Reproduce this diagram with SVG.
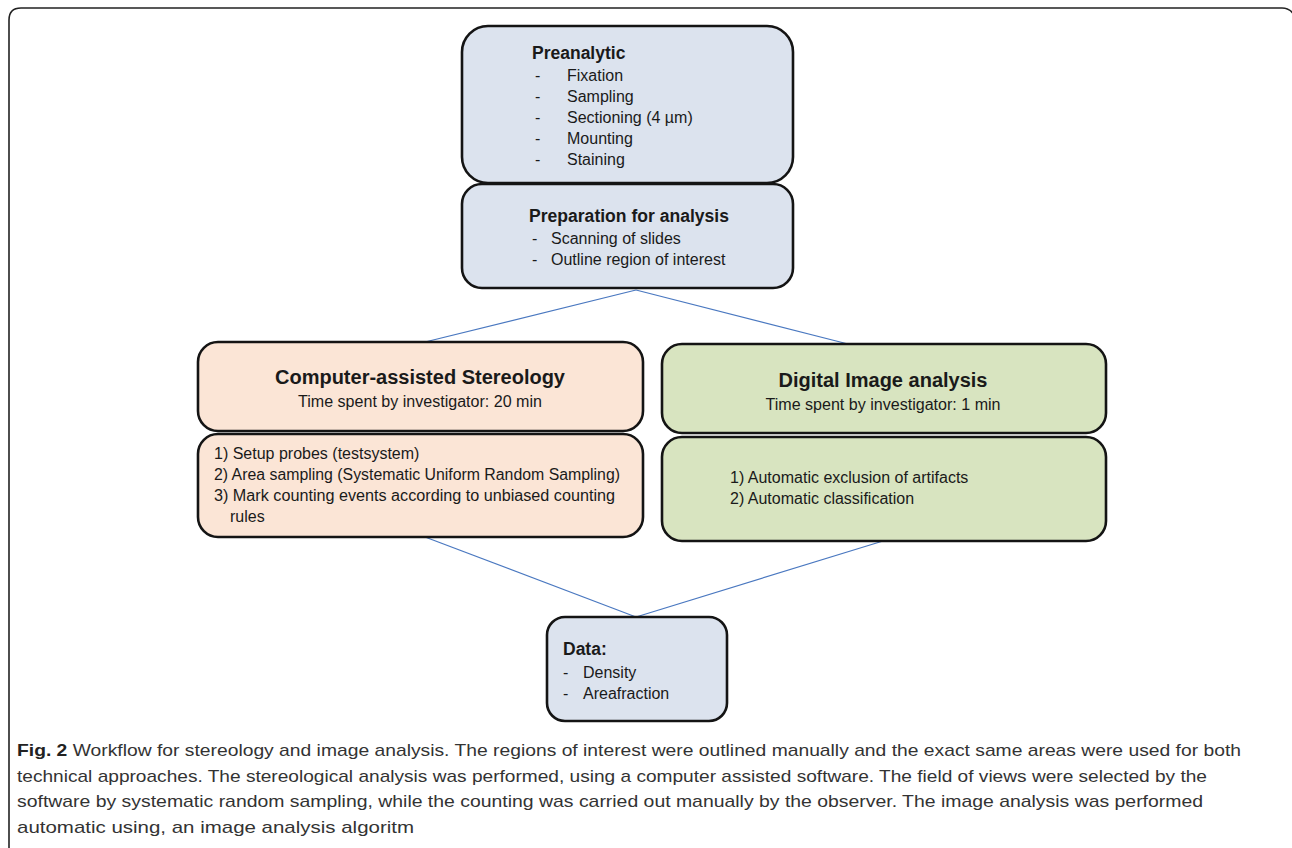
<svg xmlns="http://www.w3.org/2000/svg" width="1292" height="848" viewBox="0 0 1292 848">
<style>
.box{stroke:#141414;stroke-width:2.6}
.blue{fill:#DCE3EE}
.orange{fill:#FBE5D6}
.green{fill:#D8E4C0}
.t{font-family:"Liberation Sans",Arial,sans-serif;font-size:16px;fill:#1a1a1a}
.b{font-family:"Liberation Sans",Arial,sans-serif;font-weight:bold;font-size:17.5px;fill:#1a1a1a}
.h{font-family:"Liberation Sans",Arial,sans-serif;font-weight:bold;font-size:20px;fill:#1a1a1a}
.c{font-family:"Liberation Sans",Arial,sans-serif;font-size:17px;fill:#333}
.conn{stroke:#4A78C0;stroke-width:1.2;fill:none}
</style>
<rect width="1292" height="848" fill="#fff"/>
<path d="M 9 848 L 9 20 Q 9 8 21 8 L 1282 8 Q 1290 8 1294 15" fill="none" stroke="#222" stroke-width="1.6"/>

<g id="connectors">
<line class="conn" x1="636" y1="290" x2="425" y2="342"/>
<line class="conn" x1="636" y1="290" x2="848" y2="344"/>
<line class="conn" x1="425" y1="537" x2="636" y2="617"/>
<line class="conn" x1="883" y1="541" x2="636" y2="617"/>
</g>

<g id="preanalytic">
<rect class="box blue" x="462" y="26" width="331" height="157" rx="26"/>
<text class="b" x="532" y="59">Preanalytic</text>
<text class="t" x="535" y="81">-</text><text class="t" x="567" y="81">Fixation</text>
<text class="t" x="535" y="102">-</text><text class="t" x="567" y="102">Sampling</text>
<text class="t" x="535" y="123">-</text><text class="t" x="567" y="123">Sectioning (4 µm)</text>
<text class="t" x="535" y="144">-</text><text class="t" x="567" y="144">Mounting</text>
<text class="t" x="535" y="165">-</text><text class="t" x="567" y="165">Staining</text>
</g>

<g id="preparation">
<rect class="box blue" x="462" y="184" width="331" height="104" rx="20"/>
<text class="b" x="529" y="222" textLength="200" lengthAdjust="spacingAndGlyphs">Preparation for analysis</text>
<text class="t" x="532" y="244">-</text><text class="t" x="551" y="244">Scanning of slides</text>
<text class="t" x="532" y="265">-</text><text class="t" x="551" y="265">Outline region of interest</text>
</g>

<g id="stereology">
<rect class="box orange" x="198" y="342" width="445" height="89" rx="20"/>
<text class="h" x="420" y="384" text-anchor="middle" textLength="290" lengthAdjust="spacingAndGlyphs">Computer-assisted Stereology</text>
<text class="t" x="420" y="407" text-anchor="middle" textLength="244" lengthAdjust="spacingAndGlyphs">Time spent by investigator: 20 min</text>
</g>

<g id="stereology-steps">
<rect class="box orange" x="198" y="434" width="445" height="103" rx="20"/>
<text class="t" x="214" y="459">1) Setup probes (testsystem)</text>
<text class="t" x="214" y="480" textLength="406" lengthAdjust="spacingAndGlyphs">2) Area sampling (Systematic Uniform Random Sampling)</text>
<text class="t" x="214" y="501" textLength="401" lengthAdjust="spacingAndGlyphs">3) Mark counting events according to unbiased counting</text>
<text class="t" x="230" y="522">rules</text>
</g>

<g id="image-analysis">
<rect class="box green" x="662" y="344" width="444" height="89" rx="20"/>
<text class="h" x="883" y="387" text-anchor="middle" textLength="209" lengthAdjust="spacingAndGlyphs">Digital Image analysis</text>
<text class="t" x="883" y="410" text-anchor="middle" textLength="235" lengthAdjust="spacingAndGlyphs">Time spent by investigator: 1 min</text>
</g>

<g id="image-analysis-steps">
<rect class="box green" x="662" y="437" width="444" height="104" rx="20"/>
<text class="t" x="730" y="483">1) Automatic exclusion of artifacts</text>
<text class="t" x="730" y="504">2) Automatic classification</text>
</g>

<g id="data">
<rect class="box blue" x="547" y="617" width="180" height="104" rx="18"/>
<text class="b" x="563" y="655">Data:</text>
<text class="t" x="563" y="678">-</text><text class="t" x="583" y="678">Density</text>
<text class="t" x="563" y="699">-</text><text class="t" x="583" y="699">Areafraction</text>
</g>

<g id="caption">
<text class="c" x="17" y="756" textLength="1224" lengthAdjust="spacingAndGlyphs"><tspan font-weight="bold" fill="#222">Fig. 2</tspan> Workflow for stereology and image analysis. The regions of interest were outlined manually and the exact same areas were used for both</text>
<text class="c" x="17" y="782" textLength="1190" lengthAdjust="spacingAndGlyphs">technical approaches. The stereological analysis was performed, using a computer assisted software. The field of views were selected by the</text>
<text class="c" x="17" y="807" textLength="1186" lengthAdjust="spacingAndGlyphs">software by systematic random sampling, while the counting was carried out manually by the observer. The image analysis was performed</text>
<text class="c" x="17" y="833" textLength="397" lengthAdjust="spacingAndGlyphs">automatic using, an image analysis algoritm</text>
</g>
</svg>
